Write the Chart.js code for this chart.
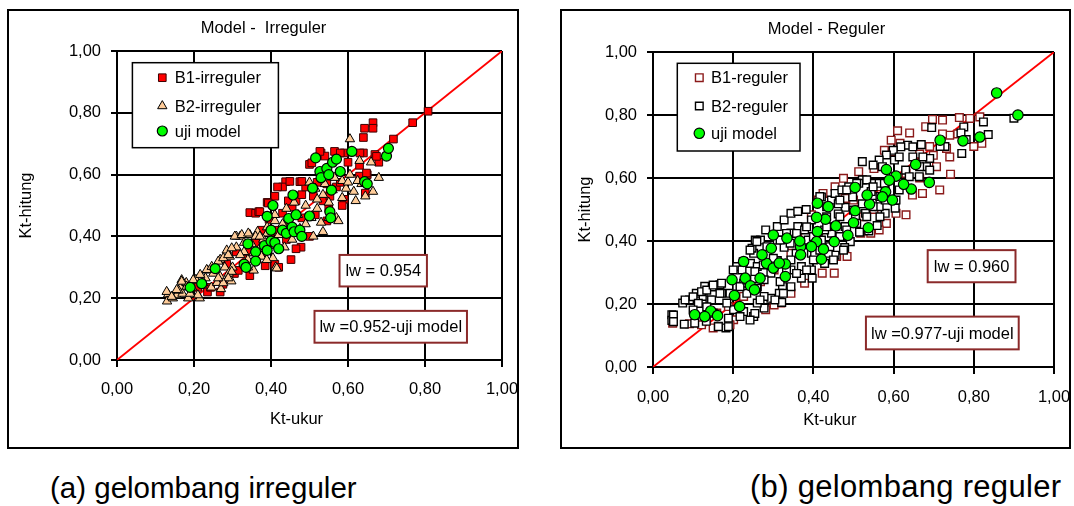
<!DOCTYPE html>
<html lang="id">
<head>
<meta charset="UTF-8">
<title>Kt-hitung vs Kt-ukur</title>
<script src="https://cdn.jsdelivr.net/npm/chart.js@4"></script>
<style>
  body { margin: 0; background: #fff; width: 1074px; height: 506px; position: relative; overflow: hidden; }
  .panel { position: absolute; top: 9px; height: 440px; border: 2px solid #000; box-sizing: border-box; background: #fff; }
  #panelA { left: 7px; width: 512px; }
  #panelB { left: 560px; width: 511px; }
  .panel canvas { display: block; }
  .caption { position: absolute; top: 473px; font-family: 'Liberation Sans', Arial, sans-serif; font-size: 29.5px; line-height: 29.5px; color: #000; white-space: nowrap; }
  #capA { left: 50px; }
  #capB { left: 750px; font-size: 31px; letter-spacing: 0.3px; top: 472px; }
</style>
</head>
<body>
<div class="panel" id="panelA"><canvas id="chartIrreg" width="508" height="436"></canvas></div>
<div class="panel" id="panelB"><canvas id="chartReg" width="507" height="436"></canvas></div>
<div class="caption" id="capA">(a) gelombang irreguler</div>
<div class="caption" id="capB">(b) gelombang reguler</div>

<script>
// [Kt-ukur, Kt-hitung]
var b1IrregPts = [
  [0.808,0.805],[0.768,0.768],[0.718,0.715],[0.665,0.768],[0.665,0.75],[0.643,0.75],[0.64,0.72],[0.67,0.665],
  [0.68,0.64],[0.64,0.67],[0.63,0.63],[0.565,0.675],[0.53,0.67],[0.54,0.66],[0.50,0.633],[0.438,0.577],
  [0.43,0.56],[0.475,0.577],[0.41,0.53],[0.39,0.51],[0.345,0.477],[0.36,0.475],[0.368,0.48],[0.59,0.67],
  [0.60,0.64],[0.59,0.52],[0.585,0.50],[0.545,0.45],[0.50,0.40],[0.478,0.365],[0.452,0.325],[0.41,0.31],
  [0.42,0.30],[0.385,0.305],[0.375,0.345],[0.345,0.273],[0.268,0.22],[0.235,0.22],[0.243,0.235],[0.275,0.245],
  [0.305,0.28],[0.315,0.29],[0.645,0.54],[0.63,0.595],[0.65,0.60],[0.455,0.495],[0.465,0.515],[0.48,0.535],
  [0.49,0.56],[0.51,0.53],[0.535,0.515],[0.553,0.53],[0.57,0.56],[0.58,0.575],[0.545,0.57],[0.52,0.575],
  [0.41,0.42],[0.44,0.39],[0.465,0.36],[0.375,0.42],[0.36,0.38],[0.31,0.35],[0.285,0.31],[0.34,0.35],
  [0.48,0.46],[0.515,0.47],[0.55,0.49],[0.395,0.455],[0.43,0.475],[0.445,0.515],[0.21,0.235],
  [0.527,0.675],[0.58,0.67],[0.631,0.67],[0.674,0.659],[0.506,0.638],[0.648,0.605],[0.449,0.578],
  [0.48,0.578],[0.417,0.56],[0.371,0.48],[0.393,0.508]
];
var b2IrregPts = [
  [0.605,0.715],[0.68,0.59],[0.665,0.545],[0.66,0.64],[0.63,0.645],[0.62,0.515],[0.57,0.46],[0.575,0.45],
  [0.535,0.415],[0.51,0.40],[0.455,0.39],[0.412,0.30],[0.355,0.29],[0.297,0.255],[0.268,0.27],[0.215,0.20],
  [0.185,0.20],[0.133,0.213],[0.13,0.19],[0.155,0.21],[0.165,0.235],[0.18,0.25],[0.205,0.26],[0.235,0.29],
  [0.268,0.325],[0.285,0.355],[0.31,0.40],[0.32,0.40],[0.345,0.405],[0.365,0.415],[0.31,0.365],[0.293,0.335],
  [0.33,0.35],[0.34,0.325],[0.375,0.335],[0.39,0.41],[0.405,0.33],[0.435,0.365],[0.44,0.49],[0.46,0.51],
  [0.50,0.575],[0.515,0.555],[0.535,0.535],[0.54,0.57],[0.565,0.59],[0.585,0.58],[0.595,0.555],[0.605,0.60],
  [0.615,0.545],[0.635,0.57],[0.585,0.525],[0.55,0.51],[0.52,0.49],[0.505,0.46],[0.49,0.44],[0.475,0.425],
  [0.46,0.415],[0.43,0.44],[0.41,0.45],[0.41,0.47],[0.39,0.43],[0.35,0.375],[0.32,0.34],[0.28,0.30],
  [0.25,0.28],[0.23,0.265],[0.195,0.235],[0.17,0.215],[0.21,0.21],[0.245,0.235],[0.30,0.30],[0.645,0.53],
  [0.55,0.46],[0.53,0.445],[0.145,0.20],[0.16,0.225],[0.19,0.215],[0.225,0.25],[0.26,0.25],[0.29,0.28],
  [0.33,0.38],[0.36,0.40],[0.38,0.39],[0.42,0.405],[0.45,0.44],[0.47,0.47],[0.49,0.50],[0.52,0.52],
  [0.56,0.55],[0.60,0.575],[0.625,0.58],[0.37,0.36],[0.40,0.37],[0.34,0.30],[0.27,0.23],[0.415,0.297],
  [0.129,0.221],[0.168,0.259],[0.142,0.205],[0.155,0.227],[0.168,0.254],[0.181,0.238],[0.198,0.259],
  [0.216,0.276],[0.233,0.292],[0.246,0.302],[0.263,0.319],[0.276,0.33],[0.289,0.34],[0.298,0.362],
  [0.306,0.40],[0.324,0.405],[0.341,0.41],[0.371,0.40],[0.298,0.286],[0.289,0.265],[0.276,0.249],
  [0.263,0.265],[0.389,0.324],[0.354,0.346]
];
var ujiIrregPts = [
  [0.19,0.235],[0.22,0.247],[0.255,0.296],[0.33,0.31],[0.335,0.30],[0.34,0.376],[0.36,0.35],[0.36,0.32],
  [0.383,0.37],[0.39,0.355],[0.40,0.42],[0.40,0.385],[0.39,0.465],[0.405,0.50],[0.41,0.38],[0.42,0.36],
  [0.43,0.42],[0.44,0.41],[0.446,0.458],[0.457,0.534],[0.455,0.43],[0.46,0.415],[0.465,0.47],[0.475,0.42],
  [0.48,0.40],[0.50,0.466],[0.508,0.556],[0.516,0.654],[0.527,0.61],[0.53,0.59],[0.545,0.62],[0.55,0.60],
  [0.553,0.48],[0.555,0.46],[0.557,0.55],[0.56,0.64],[0.57,0.65],[0.58,0.61],[0.61,0.675],[0.643,0.577],
  [0.65,0.57],[0.70,0.66],[0.705,0.685]
];

var b1RegPts = [
  [0.697,0.786],[0.722,0.784],[0.764,0.792],[0.79,0.789],[0.815,0.794],[0.68,0.763],[0.61,0.75],[0.64,0.743],
  [0.594,0.72],[0.577,0.688],[0.74,0.736],[0.732,0.694],[0.74,0.667],[0.742,0.612],[0.715,0.562],[0.80,0.70],
  [0.82,0.71],[0.699,0.672],[0.665,0.676],[0.631,0.483],[0.606,0.488],[0.582,0.456],[0.564,0.435],[0.543,0.425],
  [0.518,0.425],[0.484,0.351],[0.458,0.351],[0.452,0.298],[0.422,0.298],[0.475,0.599],[0.454,0.572],[0.424,0.551],
  [0.513,0.62],[0.551,0.63],[0.672,0.551],[0.647,0.546],[0.378,0.266],[0.344,0.234],[0.319,0.203],[0.302,0.197],
  [0.281,0.182],[0.251,0.16],[0.201,0.15],[0.15,0.124],[0.121,0.134],[0.091,0.137],[0.049,0.139],[0.192,0.134],
  [0.722,0.74],[0.616,0.71],[0.76,0.74],[0.598,0.683],[0.479,0.535],[0.50,0.53],[0.412,0.53],[0.395,0.483],
  [0.361,0.425],[0.344,0.361],[0.302,0.308],[0.268,0.271],[0.226,0.224],[0.188,0.192],[0.159,0.171],[0.69,0.70],
  [0.707,0.636],[0.631,0.615],[0.564,0.572],[0.551,0.50],[0.525,0.477],[0.665,0.60]
];
var b2RegPts = [
  [0.90,0.79],[0.824,0.778],[0.836,0.738],[0.775,0.762],[0.768,0.743],[0.77,0.678],[0.781,0.722],[0.695,0.76],
  [0.728,0.70],[0.69,0.662],[0.669,0.706],[0.635,0.704],[0.618,0.699],[0.599,0.688],[0.582,0.673],[0.564,0.657],
  [0.522,0.652],[0.549,0.641],[0.572,0.636],[0.602,0.657],[0.648,0.667],[0.682,0.636],[0.664,0.604],[0.63,0.625],
  [0.614,0.562],[0.604,0.504],[0.579,0.488],[0.559,0.449],[0.538,0.432],[0.515,0.428],[0.492,0.398],[0.478,0.379],
  [0.454,0.355],[0.428,0.329],[0.395,0.308],[0.397,0.282],[0.37,0.282],[0.344,0.255],[0.323,0.255],[0.315,0.234],
  [0.321,0.205],[0.294,0.218],[0.277,0.187],[0.251,0.16],[0.226,0.176],[0.201,0.182],[0.182,0.124],[0.163,0.129],
  [0.133,0.145],[0.104,0.139],[0.078,0.136],[0.047,0.166],[0.047,0.148],[0.074,0.203],[0.091,0.213],[0.108,0.234],
  [0.129,0.256],[0.148,0.254],[0.167,0.261],[0.171,0.234],[0.125,0.224],[0.192,0.234],[0.209,0.319],[0.222,0.308],
  [0.243,0.329],[0.251,0.361],[0.247,0.377],[0.268,0.403],[0.281,0.435],[0.255,0.403],[0.31,0.446],[0.327,0.467],
  [0.344,0.488],[0.361,0.494],[0.382,0.50],[0.361,0.446],[0.344,0.425],[0.378,0.435],[0.395,0.467],[0.42,0.54],
  [0.445,0.53],[0.454,0.551],[0.471,0.562],[0.488,0.572],[0.479,0.507],[0.522,0.594],[0.549,0.583],[0.544,0.557],
  [0.564,0.583],[0.579,0.562],[0.599,0.604],[0.639,0.604],[0.665,0.636],[0.716,0.70],[0.462,0.486],[0.433,0.477],
  [0.412,0.425],[0.387,0.403],[0.357,0.361],[0.31,0.338],[0.294,0.298],[0.277,0.277],[0.26,0.256],[0.234,0.234],
  [0.327,0.38],[0.31,0.403],[0.445,0.425],[0.479,0.446],[0.505,0.477],[0.53,0.488],[0.564,0.509],[0.579,0.53],
  [0.37,0.319],[0.344,0.308],[0.344,0.34],[0.395,0.361],[0.42,0.403],[0.522,0.518],[0.498,0.54],[0.462,0.518],
  [0.614,0.667],[0.648,0.699],[0.673,0.667],[0.577,0.583],[0.547,0.52],[0.606,0.53],[0.69,0.625],[0.513,0.583],
  [0.454,0.446],[0.428,0.435],[0.403,0.361],[0.437,0.361],[0.26,0.319],[0.226,0.266],[0.209,0.256],[0.142,0.213],
  [0.116,0.182],[0.15,0.171],[0.184,0.203],[0.26,0.203],[0.277,0.224],
  [0.051,0.165],[0.051,0.144],[0.08,0.213],[0.10,0.223],[0.121,0.239],[0.134,0.244],[0.15,0.26],[0.171,0.266],
  [0.167,0.234],[0.146,0.213],[0.134,0.191],[0.113,0.202],[0.10,0.181],[0.188,0.155],[0.163,0.128],[0.188,0.128],
  [0.217,0.255],[0.234,0.276],[0.254,0.303],[0.275,0.324],[0.30,0.345],[0.259,0.25],[0.267,0.213],[0.254,0.17],
  [0.242,0.149],[0.217,0.16],[0.317,0.271],[0.325,0.234],[0.304,0.213],[0.333,0.308],[0.333,0.424],[0.317,0.403],
  [0.259,0.398],[0.284,0.382],[0.242,0.371],[0.225,0.334],[0.20,0.308],
  [0.416,0.541],[0.433,0.509],[0.466,0.53],[0.483,0.562],[0.508,0.583],[0.533,0.594],[0.549,0.572],[0.566,0.541],
  [0.549,0.509],[0.533,0.477],[0.508,0.456],[0.483,0.435],[0.466,0.414],[0.441,0.382],[0.416,0.371],[0.40,0.34],
  [0.383,0.308],[0.358,0.297],[0.342,0.393],[0.358,0.424],[0.383,0.445],[0.40,0.414],[0.433,0.445],[0.466,0.477],
  [0.50,0.498],[0.475,0.371],[0.45,0.34],[0.566,0.477]
];
var ujiRegPts = [
  [0.857,0.87],[0.91,0.80],[0.716,0.72],[0.773,0.718],[0.815,0.73],[0.655,0.643],[0.689,0.586],[0.644,0.565],
  [0.625,0.58],[0.606,0.606],[0.582,0.627],[0.589,0.593],[0.58,0.556],[0.597,0.53],[0.572,0.54],[0.54,0.517],
  [0.534,0.546],[0.504,0.57],[0.504,0.496],[0.50,0.458],[0.486,0.418],[0.537,0.442],[0.456,0.448],[0.452,0.398],
  [0.43,0.469],[0.437,0.509],[0.41,0.52],[0.408,0.475],[0.41,0.43],[0.408,0.398],[0.425,0.374],[0.42,0.342],
  [0.395,0.382],[0.368,0.382],[0.368,0.356],[0.366,0.40],[0.334,0.409],[0.30,0.419],[0.295,0.377],[0.283,0.329],
  [0.30,0.314],[0.272,0.356],[0.33,0.327],[0.33,0.287],[0.315,0.33],[0.226,0.335],[0.197,0.277],[0.23,0.282],
  [0.243,0.258],[0.267,0.282],[0.253,0.245],[0.203,0.227],[0.216,0.192],[0.144,0.178],[0.104,0.166],[0.129,0.16],
  [0.161,0.163]
];

// garis 1:1
var lineX = [0, 1];
var lineY = [0, 1];

var axisTicks = [0, 0.2, 0.4, 0.6, 0.8, 1.0];

var FONT_FAMILY = "'Liberation Sans', Arial, sans-serif";
var FONT_SIZE = 16.5;
Chart.defaults.font.family = FONT_FAMILY;
Chart.defaults.font.size = FONT_SIZE;
Chart.defaults.color = '#000';

function toXY(pts) {
    return pts.map(function(p) { return { x: p[0], y: p[1] }; });
}

function drawMarker(ctx, ds, x, y) {
    var r = ds.pointRadius;
    ctx.beginPath();
    if (ds.pointStyle === 'rect') {
        var s = r * Math.SQRT1_2;
        ctx.rect(x - s, y - s, 2 * s, 2 * s);
    } else if (ds.pointStyle === 'triangle') {
        ctx.moveTo(x, y - r);
        ctx.lineTo(x + r * 0.866, y + r / 2);
        ctx.lineTo(x - r * 0.866, y + r / 2);
        ctx.closePath();
    } else {
        ctx.arc(x, y, r, 0, Math.PI * 2);
    }
    ctx.fillStyle = ds.backgroundColor;
    ctx.fill();
    ctx.lineWidth = ds.borderWidth;
    ctx.strokeStyle = ds.borderColor;
    ctx.stroke();
}

// judul, label sumbu x, kotak legenda dan kotak lw
var notesPlugin = {
    id: 'notes',
    afterDraw: function(chart, args, opts) {
        var ctx = chart.ctx;
        var area = chart.chartArea;
        var sx = chart.scales.x, sy = chart.scales.y;
        var midX = (area.left + area.right) / 2;
        ctx.save();
        ctx.font = FONT_SIZE + 'px ' + FONT_FAMILY;
        ctx.fillStyle = '#000';
        ctx.textAlign = 'center';
        ctx.textBaseline = 'middle';
        ctx.fillText(opts.title, midX + opts.titleShift, area.top - 23);
        ctx.fillText('Kt-ukur', midX + opts.xTitleShift, area.bottom + opts.xTitleGap);

        opts.boxes.forEach(function(b) {
            var l = sx.getPixelForValue(b.x0), r = sx.getPixelForValue(b.x1);
            var t = sy.getPixelForValue(b.y1), bt = sy.getPixelForValue(b.y0);
            ctx.fillStyle = '#fff';
            ctx.fillRect(l, t, r - l, bt - t);
            ctx.strokeStyle = '#8b2a2a';
            ctx.lineWidth = 2;
            ctx.strokeRect(l, t, r - l, bt - t);
            ctx.fillStyle = '#000';
            ctx.fillText(b.text, (l + r) / 2, (t + bt) / 2 + 1);
        });

        var lg = opts.legend;
        var bx = area.left + lg.dx, by = area.top + lg.dy;
        ctx.fillStyle = '#fff';
        ctx.fillRect(bx, by, lg.w, lg.h);
        ctx.strokeStyle = '#000';
        ctx.lineWidth = 1.5;
        ctx.strokeRect(bx, by, lg.w, lg.h);
        ctx.textAlign = 'left';
        lg.rows.forEach(function(row, i) {
            var ds = chart.data.datasets[i];
            drawMarker(ctx, ds, area.left + lg.markerX, by + row);
            ctx.fillStyle = '#000';
            ctx.fillText(ds.label, area.left + lg.textX, by + row + 1);
        });
        ctx.restore();
    }
};

function makeChart(id, sets, o) {
    var fmt = function(v) { return v.toFixed(2).replace('.', ','); };
    var datasets = sets.concat([{
        type: 'line',
        label: '1:1',
        data: lineX.map(function(x, i) { return { x: x, y: lineY[i] }; }),
        borderColor: '#ff0000',
        borderWidth: 1.8,
        pointRadius: 0,
        order: 3
    }]);
    return new Chart(document.getElementById(id), {
        type: 'scatter',
        data: { datasets: datasets },
        options: {
            responsive: false,
            animation: false,
            events: [],
            layout: { padding: { top: o.top, right: 15, left: 0, bottom: 0 } },
            plugins: {
                legend: { display: false },
                tooltip: { enabled: false },
                notes: o.notes
            },
            scales: {
                x: {
                    type: 'linear', min: 0, max: 1,
                    afterBuildTicks: function(s) { s.ticks = axisTicks.map(function(v) { return { value: v }; }); },
                    ticks: { padding: o.xTickPad, maxRotation: 0, autoSkip: false, callback: fmt },
                    grid: { color: '#000', lineWidth: 2, tickLength: 7 },
                    border: { color: '#000', width: 2 },
                    afterFit: function(s) { s.height = o.bottom; s.paddingLeft = 0; s.paddingRight = 0; }
                },
                y: {
                    type: 'linear', min: 0, max: 1,
                    afterBuildTicks: function(s) { s.ticks = axisTicks.map(function(v) { return { value: v }; }); },
                    ticks: { padding: 10, callback: fmt },
                    grid: { color: '#000', lineWidth: 2, tickLength: 6 },
                    border: { color: '#000', width: 2 },
                    title: { display: true, text: 'Kt-hitung', padding: { top: o.yTitlePad, bottom: 0 } },
                    afterFit: function(s) { s.width = o.left; s.paddingTop = 0; s.paddingBottom = 0; }
                }
            }
        },
        plugins: [notesPlugin]
    });
}

makeChart('chartIrreg', [
    { label: 'B1-irreguler', data: toXY(b1IrregPts), pointStyle: 'rect', pointRadius: 5.4,
      backgroundColor: '#ff0000', borderColor: '#3a0000', borderWidth: 1, order: 2 },
    { label: 'B2-irreguler', data: toXY(b2IrregPts), pointStyle: 'triangle', pointRadius: 5.4,
      backgroundColor: '#ffcc99', borderColor: '#000', borderWidth: 1, order: 1 },
    { label: 'uji model', data: toXY(ujiIrregPts), pointStyle: 'circle', pointRadius: 5,
      backgroundColor: '#00ff00', borderColor: '#000', borderWidth: 1.2, order: 0 }
], {
    top: 40, bottom: 87, left: 108, xTickPad: 13, yTitlePad: 8,
    notes: {
        title: 'Model -  Irreguler', titleShift: -46, xTitleShift: -13, xTitleGap: 59,
        legend: { dx: 15.4, dy: 11.7, w: 146, h: 85, markerX: 45.3, textX: 57.7, rows: [15, 43.3, 68.3] },
        boxes: [
            { text: 'lw = 0.954', x0: 0.578, x1: 0.805, y0: 0.238, y1: 0.340 },
            { text: 'lw =0.952-uji model', x0: 0.513, x1: 0.909, y0: 0.056, y1: 0.159 }
        ]
    }
});

makeChart('chartReg', [
    { label: 'B1-reguler', data: toXY(b1RegPts), pointStyle: 'rect', pointRadius: 5.4,
      backgroundColor: '#ffffff', borderColor: '#8b1a1a', borderWidth: 1.4, order: 2 },
    { label: 'B2-reguler', data: toXY(b2RegPts), pointStyle: 'rect', pointRadius: 5.4,
      backgroundColor: '#ffffff', borderColor: '#000', borderWidth: 1.4, order: 1 },
    { label: 'uji model', data: toXY(ujiRegPts), pointStyle: 'circle', pointRadius: 5.2,
      backgroundColor: '#00ff00', borderColor: '#000', borderWidth: 1.2, order: 0 }
], {
    top: 41, bottom: 80, left: 91, xTickPad: 14, yTitlePad: 14,
    notes: {
        title: 'Model - Reguler', titleShift: -27, xTitleShift: -23.7, xTitleGap: 53,
        legend: { dx: 24.3, dy: 11.3, w: 122.7, h: 87.7, markerX: 46.3, textX: 58, rows: [14.4, 42.7, 70] },
        boxes: [
            { text: 'lw = 0.960', x0: 0.685, x1: 0.904, y0: 0.269, y1: 0.371 },
            { text: 'lw =0.977-uji model', x0: 0.531, x1: 0.912, y0: 0.056, y1: 0.160 }
        ]
    }
});
</script>
</body>
</html>
